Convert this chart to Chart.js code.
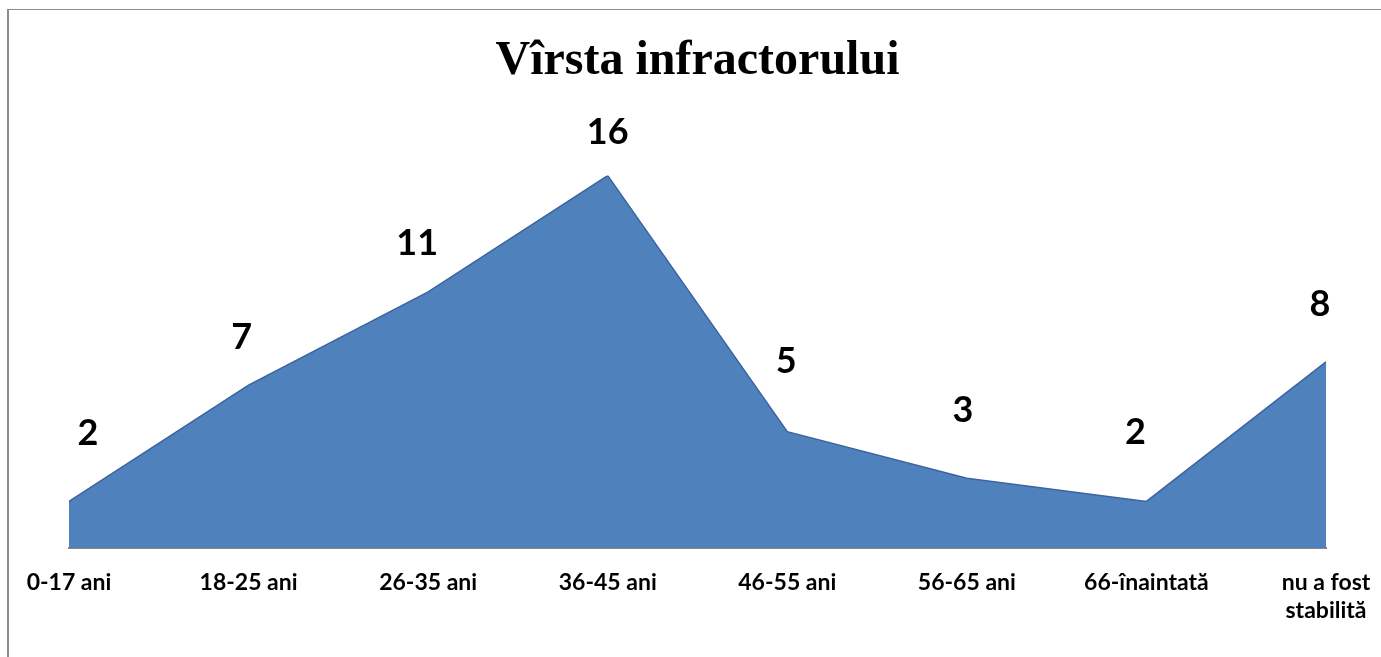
<!DOCTYPE html>
<html>
<head>
<meta charset="utf-8">
<script src="https://cdn.jsdelivr.net/npm/chart.js@4/dist/chart.umd.min.js"></script>
<style>
  html, body { margin: 0; padding: 0; background: #fff; overflow: hidden; }
  #wrap { position: relative; width: 1381px; height: 657px; }
  #frame {
    position: absolute; left: 7px; top: 9px; width: 1400px; height: 700px;
    border-top: 1px solid #8c8c8c; border-left: 2px solid #8c8c8c;
  }
  #chartCanvas { position: absolute; left: 0; top: 0; }
</style>
</head>
<body>
<div id="wrap">
  <div id="frame"></div>
  <canvas id="chartCanvas" width="1381" height="657"></canvas>
</div>
<script>
const categories = ['0-17 ani', '18-25 ani', '26-35 ani', '36-45 ani', '46-55 ani', '56-65 ani', '66-înaintată', ['nu a fost', 'stabilită']];
const values = [2, 7, 11, 16, 5, 3, 2, 8];
const chartTitle = 'Vîrsta infractorului';

// label nudges (px) to sit where the original Excel labels were
const labelShift = [[19, -68], [-7, -48], [-11, -49], [0, -43], [-1, -70], [-4, -68], [-11, -69], [-6, -57]];

const valueLabels = {
    id: 'valueLabels',
    afterDatasetsDraw(chart) {
        const ctx = chart.ctx;
        const meta = chart.getDatasetMeta(0);
        ctx.save();
        ctx.font = 'bold 36px Lato';
        ctx.fillStyle = '#000';
        ctx.textAlign = 'center';
        ctx.textBaseline = 'middle';
        meta.data.forEach((pt, i) => {
            const s = labelShift[i] || [0, -55];
            ctx.fillText(String(values[i]), pt.x + s[0], pt.y + s[1]);
        });
        ctx.restore();
    }
};

const ctx = document.getElementById('chartCanvas').getContext('2d');
new Chart(ctx, {
    type: 'line',
    data: {
        labels: categories,
        datasets: [{
            data: values,
            fill: 'origin',
            backgroundColor: '#4F81BD',
            borderColor: '#3B64A0',
            borderWidth: 1.5,
            tension: 0,
            pointRadius: 0
        }]
    },
    options: {
        responsive: false,
        animation: false,
        layout: {
            padding: { left: 69, right: 55, top: 0, bottom: 0 }
        },
        plugins: {
            legend: { display: false },
            tooltip: { enabled: false },
            title: {
                display: true,
                text: chartTitle,
                color: '#000',
                font: { family: 'Liberation Serif', size: 48, weight: 'bold' },
                padding: { top: 33, bottom: 85 }
            }
        },
        scales: {
            x: {
                offset: false,
                grid: { display: false, drawTicks: false },
                border: { display: true, color: '#868686', width: 2 },
                ticks: {
                    color: '#000',
                    font: { family: 'Lato', size: 23, weight: 'bold' },
                    padding: 21,
                    maxRotation: 0,
                    autoSkip: false
                },
                afterFit(scale) {
                    scale.height = 109;
                    scale.paddingLeft = 0;
                    scale.paddingRight = 0;
                }
            },
            y: {
                display: false,
                min: 0,
                max: 16
            }
        }
    },
    plugins: [valueLabels]
});
</script>
</body>
</html>
